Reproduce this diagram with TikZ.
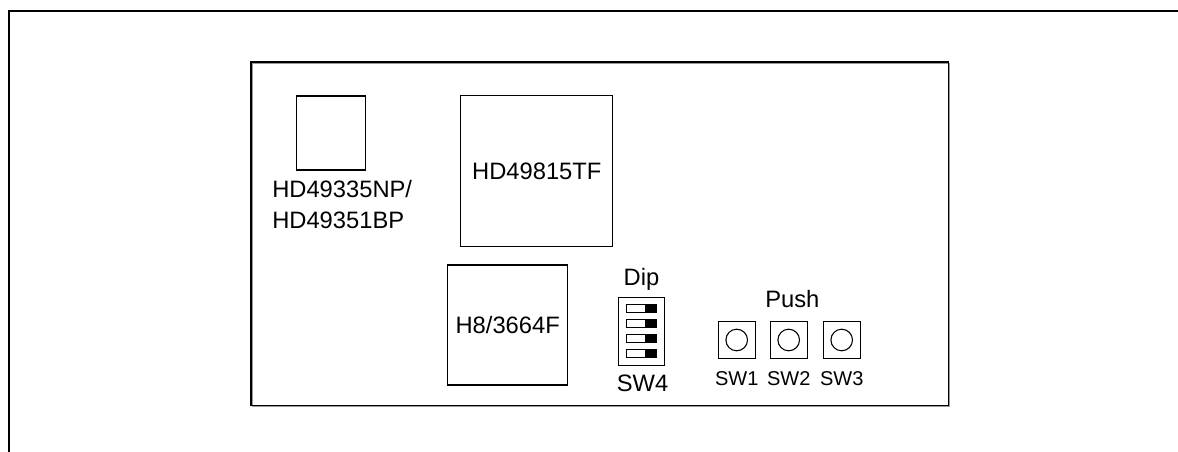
\documentclass[tikz,border=0pt]{standalone}
\usepackage{fontspec}
\setmainfont{Liberation Sans}
\usetikzlibrary{positioning}
\definecolor{shadowgray}{rgb}{0.6, 0.6, 0.6}

\tikzset{
	chip/.style={draw, line width=0.8pt, inner sep=0pt, font=\fontsize{17.8}{23}\selectfont},
	lbl/.style={inner sep=0pt, font=\fontsize{17.8}{23}\selectfont},
	swlbl/.style={inner sep=0pt, font=\fontsize{15}{18}\selectfont}
}

\begin{document}
\begin{tikzpicture}[x=0.75pt, y=-0.75pt]
	\useasboundingbox (0,0) rectangle (1178,452);
	
	% frame and board
	\draw [line width=1.8pt] (9,452)--(9,11)--(1178,11);
	\draw [shadowgray, line width=1pt] (252.2,63.2) rectangle (949.7,406.7);
	\draw [line width=1.1pt] (251,62) rectangle (948.5,405.5);
	
	% chips
	\node [chip, minimum width=51.75pt, minimum height=55.5pt] (afe) at (331.2,133) {};
	\node [lbl, align=left, anchor=north west] (afelbl) at (272,180) {HD49335NP/\\HD49351BP};
	\node [chip, minimum width=113.8pt, minimum height=113pt] (dsp) at (536.8,171.3) {HD49815TF};
	\node [chip, minimum width=90pt, minimum height=90pt] (mcu) at (507.7,325) {H8/3664F};
	
	% dip switch
	\node [draw, line width=0.8pt, inner sep=0pt, minimum width=34.3pt, minimum height=51pt] (dip) at (641.2,331.4) {};
	\node [lbl, anchor=base] (diplbl) at (641.5,286) {Dip};
	\node [lbl, anchor=base] (sw4) at (642.5,391.5) {SW4};
	\foreach \y in {308.3,323.5,338.5,353.5}{
		\draw [line width=0.6pt] (626,\y-4.2) rectangle (656.7,\y+4.2);
		\fill (645,\y-4.2) rectangle (656.7,\y+4.2);
	}
	
	% push switches
	\node [lbl, anchor=base] (pushlbl) at (792.3,308) {Push};
	\foreach \x/\n in {736.7/1, 788.7/2, 841.7/3}{
		\node [draw, line width=0.8pt, inner sep=0pt, minimum size=28pt] (sw\n) at (\x,340) {};
		\node [draw, circle, line width=0.8pt, inner sep=0pt, minimum size=16.2pt] (knob\n) at (sw\n) {};
		\node [swlbl, anchor=base] (sw\n lbl) at (\x,385) {SW\n};
	}
\end{tikzpicture}
\end{document}
